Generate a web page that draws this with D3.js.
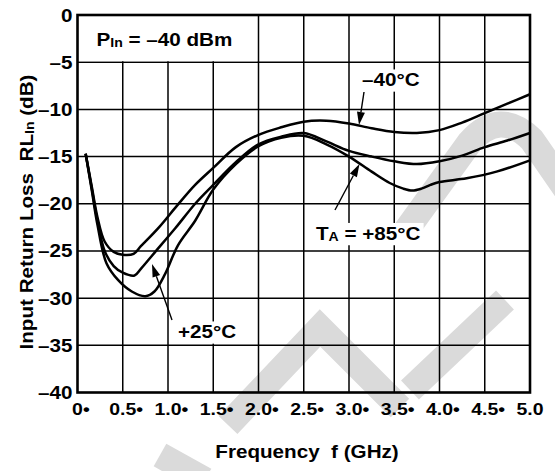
<!DOCTYPE html>
<html><head><meta charset="utf-8">
<script src="https://cdn.jsdelivr.net/npm/d3@7"></script>
<style>
body{margin:0;background:#fff}
svg{display:block}
text{font-family:"Liberation Sans",Arial,Helvetica,sans-serif;font-weight:bold;fill:#000}
</style></head>
<body><svg id="c" width="555" height="471"></svg>
<script>
// ---- data ----
const freqM40 = [0.09,0.16,0.22,0.30,0.40,0.50,0.62,0.70,0.90,1.10,1.30,1.50,1.75,2.00,2.25,2.50,2.75,3.00,3.25,3.50,3.75,4.00,4.25,4.50,4.75,5.00];
const rlM40   = [-14.7,-18.3,-21.4,-24.0,-25.1,-25.4,-25.3,-24.5,-22.5,-20.2,-18.0,-16.2,-14.0,-12.7,-11.9,-11.3,-11.2,-11.5,-12.0,-12.4,-12.5,-12.2,-11.4,-10.4,-9.4,-8.4];
const freqP25 = [0.09,0.16,0.22,0.30,0.40,0.50,0.63,0.70,0.85,1.08,1.30,1.50,1.75,2.00,2.25,2.50,2.75,3.00,3.25,3.50,3.75,4.00,4.25,4.50,4.75,5.00];
const rlP25   = [-14.7,-18.5,-21.8,-25.0,-26.6,-27.3,-27.6,-26.9,-25.2,-22.6,-20.0,-18.0,-15.6,-13.7,-12.9,-12.5,-13.4,-14.4,-15.0,-15.5,-15.8,-15.5,-14.9,-14.0,-13.3,-12.5];
const freqP85 = [0.09,0.16,0.22,0.32,0.45,0.60,0.75,0.85,0.97,1.11,1.30,1.50,1.75,2.00,2.25,2.50,2.75,3.00,3.25,3.45,3.60,3.70,3.80,3.90,4.00,4.30,4.63,5.00];
const rlP85   = [-14.7,-18.7,-22.2,-26.3,-28.1,-29.3,-29.8,-29.3,-27.4,-24.4,-21.8,-18.5,-15.8,-13.9,-13.0,-12.8,-13.7,-15.0,-16.6,-17.8,-18.4,-18.6,-18.4,-18.0,-17.7,-17.3,-16.6,-15.4];
const xTicks = [0,0.5,1.0,1.5,2.0,2.5,3.0,3.5,4.0,4.5,5.0];
const xTickLabels = ["0","0.5","1.0","1.5","2.0","2.5","3.0","3.5","4.0","4.5","5.0"];
const yTicks = [0,-5,-10,-15,-20,-25,-30,-35,-40];
const yTickLabels = ["0","–5","–10","–15","–20","–25","–30","–35","–40"];

// ---- layout ----
const svg = d3.select("#c");
const SX = 1.18;
const x = d3.scaleLinear().domain([0,5]).range([77.5,530]);
const y = d3.scaleLinear().domain([0,-40]).range([15,392.5]);

// watermark (light gray, behind everything)
const wm = svg.append("g").attr("fill","none").attr("stroke","#dadada").attr("stroke-width",26);
wm.append("path").attr("d","M405,232 L470,142 Q500,108 532,140 L570,195");
wm.append("path").attr("d","M228,425 L320,328 L400,408");
wm.append("path").attr("d","M410,390 L505,300");
wm.append("path").attr("d","M160,455 L205,480");

// grid
const grid = svg.append("g").attr("stroke","#000").attr("stroke-width",1.5);
xTicks.slice(1,-1).forEach(t=>{
  grid.append("line").attr("x1",x(t)).attr("x2",x(t)).attr("y1",y(0)).attr("y2",y(-40));
});
yTicks.slice(1,-1).forEach(t=>{
  grid.append("line").attr("x1",x(0)).attr("x2",x(5)).attr("y1",y(t)).attr("y2",y(t));
});
// blank area for the P_in note
svg.append("rect").attr("x",x(0)+1).attr("y",y(0)+1).attr("width",x(2)-x(0)-2.5).attr("height",y(-5)-y(0)-2).attr("fill","#fff");

// label helper
function addLabel(px, py, parts, size, anchor, rotate){
  const t = svg.append("text")
    .attr("transform",`translate(${px},${py})${rotate?` rotate(${rotate})`:""} scale(${SX},1)`)
    .attr("font-size",size).attr("text-anchor",anchor||"start");
  let prevSub=false;
  parts.forEach(p=>{
    if (typeof p === "string"){ const s=t.append("tspan").text(p); if(prevSub) s.attr("dy",-1); prevSub=false; }
    else { t.append("tspan").attr("font-size",size*0.68).attr("dy",1).text(p.sub); prevSub=true; }
  });
  return t;
}
function whiteBox(t,pad){
  const r = t.node().getBoundingClientRect();
  svg.insert("rect","text").attr("x",r.left-pad).attr("y",r.top-pad+2).attr("width",r.width+2*pad).attr("height",r.height+2*pad-3).attr("fill","#fff");
}

// curves
const line = d3.line().x(d=>x(d[0])).y(d=>y(d[1])).curve(d3.curveCatmullRom.alpha(0.5));
const series = [[freqM40,rlM40],[freqP25,rlP25],[freqP85,rlP85]];
const curvesG = svg.append("g").attr("fill","none").attr("stroke","#000").attr("stroke-width",2.5).attr("stroke-linejoin","round");
series.forEach(([f,v])=>{
  curvesG.append("path").attr("d", line(f.map((d,i)=>[d,v[i]])));
});

// frame
svg.append("rect").attr("x",x(0)).attr("y",y(0)).attr("width",x(5)-x(0)).attr("height",y(-40)-y(0))
  .attr("fill","none").attr("stroke","#000").attr("stroke-width",2.6);

// annotations
const labM40 = addLabel(362, 86, ["–40°C"], 17.5);
const labP85 = addLabel(316, 239.5, ["T",{sub:"A"}," = +85°C"], 17.5);
const labP25 = addLabel(178, 338, ["+25°C"], 17.5);
[labM40,labP85,labP25].forEach(t=>whiteBox(t,3));
addLabel(96.5, 45.5, ["P",{sub:"In"}," = –40 dBm"], 17.5);

// arrows
function arrow(x1,y1,x2,y2){
  const ang = Math.atan2(y2-y1,x2-x1), L=13, W=4;
  const bx = x2 - L*Math.cos(ang), by = y2 - L*Math.sin(ang);
  svg.append("line").attr("x1",x1).attr("y1",y1).attr("x2",bx).attr("y2",by).attr("stroke","#000").attr("stroke-width",1.4);
  const px=-Math.sin(ang)*W, py=Math.cos(ang)*W;
  svg.append("path").attr("d",`M${x2},${y2} L${bx+px},${by+py} L${bx-px},${by-py} Z`).attr("fill","#000");
}
arrow(364,92,359,125);
arrow(335,210,359.5,164);
arrow(172,320,152,264);

// x tick labels
xTicks.forEach((t,i)=>{
  const tmp = svg.append("text").attr("font-size",16.5).text(xTickLabels[i]);
  const w = tmp.node().getComputedTextLength()*SX; tmp.remove();
  addLabel(x(t)-w/2, 415, [xTickLabels[i] + (i<xTicks.length-1?"•":"")], 16.5);
});
// y tick labels
yTicks.forEach((t,i)=>{
  addLabel(72.5, y(t)+6.5, [yTickLabels[i]], 17.5, "end");
});
// axis titles
addLabel(307, 458, ["Frequency\u00A0 f (GHz)"], 17.5, "middle");
addLabel(33, 212, ["Input Return Loss\u00A0 RL",{sub:"In"}," (dB)"], 17.5, "middle", -90);
</script>
</body></html>
